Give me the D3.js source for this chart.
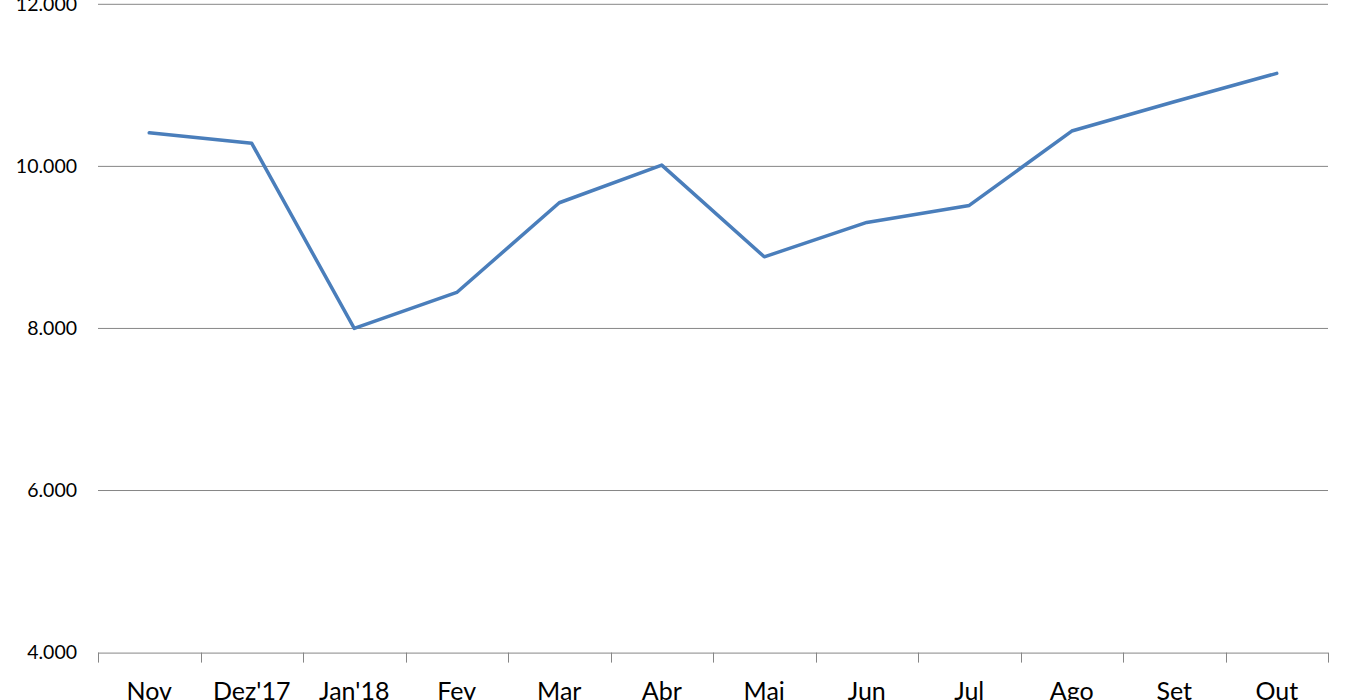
<!DOCTYPE html>
<html><head><meta charset="utf-8">
<script src="https://cdn.jsdelivr.net/npm/d3@7"></script>
<style>body{margin:0;background:#fff;overflow:hidden}</style>
</head><body>
<svg id="c" width="1350" height="700"></svg>
<script>
const categories = ["Nov","Dez'17","Jan'18","Fev","Mar","Abr","Mai","Jun","Jul","Ago","Set","Out"];
const values = [10415,10284,8000,8444,9551,10016,8884,9308,9518,10436,10798,11148];
const yTicks = [4000,6000,8000,10000,12000];

(function(){
const svg = d3.select("#c");
const mLeft=98, mRight=1328, mTop=4.3, mBottom=652.6;
const x = d3.scaleBand().domain(categories).range([mLeft,mRight]);
const y = d3.scaleLinear().domain([4000,12000]).range([mBottom,mTop]);
const fmt = v => d3.format(",")(v).replace(/,/g,".");

// gridlines
svg.append("g").selectAll("line").data(yTicks.filter(t=>t>4000)).join("line")
  .attr("x1",mLeft).attr("x2",mRight).attr("y1",d=>y(d)).attr("y2",d=>y(d))
  .attr("stroke","#868686").attr("stroke-width",1);

// y labels
svg.append("g").selectAll("text").data(yTicks).join("text")
  .attr("x",77).attr("y",d=>y(d)).attr("dy","0.35em").attr("text-anchor","end")
  .attr("font-family","Lato, 'Open Sans', sans-serif").attr("font-size",19.5).attr("fill","#000")
  .text(fmt);

// x axis
const xa = svg.append("g").attr("transform",`translate(0,${mBottom})`)
  .call(d3.axisBottom(x).tickSize(0).tickPadding(0).tickFormat(""));
xa.select(".domain").attr("stroke","#868686").attr("d",`M${mLeft},0.5H${mRight}`);
const bounds = categories.map(c=>x(c)).concat([mRight]);
svg.append("g").selectAll("line").data(bounds).join("line")
  .attr("x1",d=>Math.round(d)+0.5).attr("x2",d=>Math.round(d)+0.5)
  .attr("y1",mBottom).attr("y2",mBottom+10).attr("stroke","#868686");
svg.append("g").selectAll("text").data(categories).join("text")
  .attr("x",d=>x(d)+x.bandwidth()/2).attr("y",700)
  .attr("text-anchor","middle")
  .attr("font-family","Lato, 'Open Sans', sans-serif").attr("font-size",25).attr("fill","#000")
  .text(d=>d);

// line
const line = d3.line().x((d,i)=>x(categories[i])+x.bandwidth()/2).y(d=>y(d));
svg.append("path").datum(values).attr("d",line)
  .attr("fill","none").attr("stroke","#4a7ebb").attr("stroke-width",3.5)
  .attr("stroke-linejoin","round").attr("stroke-linecap","round");
})();
</script>
</body></html>
